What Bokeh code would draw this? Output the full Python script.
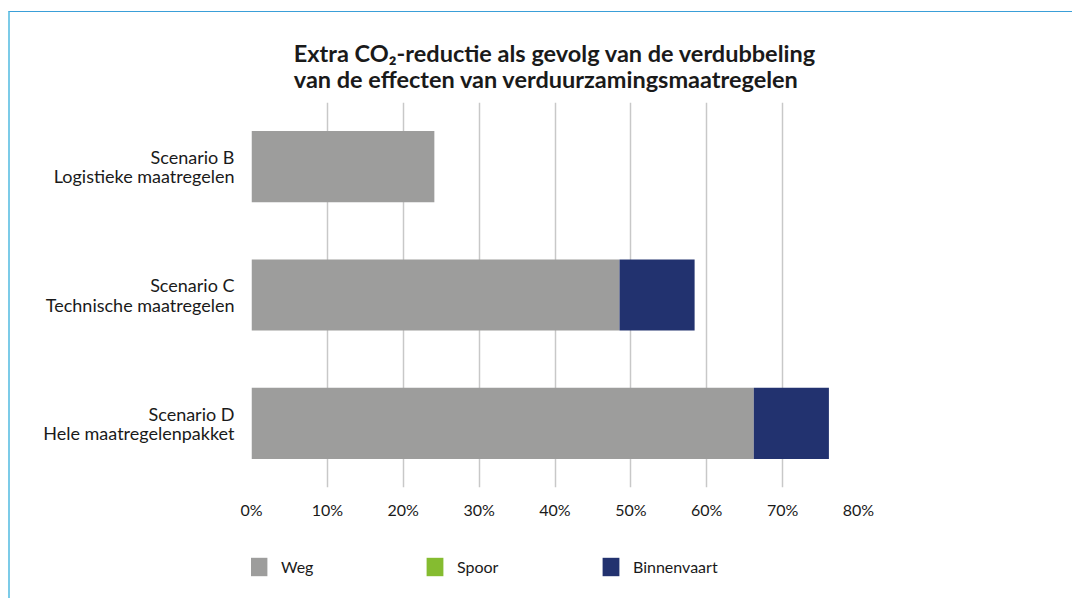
from bokeh.plotting import figure
from bokeh.models import FactorRange, FixedTicker, Legend, LegendItem, ColumnDataSource
from bokeh.layouts import column
from bokeh.embed import file_html
from bokeh.resources import INLINE

# ---- data ----
scenarios = ["Scenario B\nLogistieke maatregelen",
             "Scenario C\nTechnische maatregelen",
             "Scenario D\nHele maatregelenpakket"]
series = ["Weg", "Spoor", "Binnenvaart"]
weg = [24.1, 48.5, 66.2]
spoor = [0.0, 0.0, 0.0]
binnenvaart = [0.0, 9.9, 9.9]
x_ticks = [0, 10, 20, 30, 40, 50, 60, 70, 80]
x_tick_labels = ["0%", "10%", "20%", "30%", "40%", "50%", "60%", "70%", "80%"]
title_lines = ["Extra CO\u2082-reductie als gevolg van de verdubbeling",
               "van de effecten van verduurzamingsmaatregelen"]
colors = ["#9d9d9c", "#85bc30", "#22326f"]

FONT = "Lato"
TXT = "#1a1a1a"

source = ColumnDataSource(dict(scenario=scenarios, Weg=weg, Spoor=spoor, Binnenvaart=binnenvaart))

p = figure(width=1062, height=530, output_backend="svg", toolbar_location=None,
           y_range=FactorRange(*list(reversed(scenarios)), range_padding=0),
           x_range=(0, 80), tools="")

p.min_border_left = 241
p.min_border_right = 214
p.min_border_top = 90
p.min_border_bottom = 55

renderers = p.hbar_stack(series, y="scenario", height=0.555, color=colors,
                         line_color=None, source=source)

p.title.text = "\n".join(title_lines)
p.title.align = "center"
p.title.text_font = FONT
p.title.text_font_size = "23.5px"
p.title.text_font_style = "bold"
p.title.text_color = TXT
p.title.text_line_height = 0.95
p.title.standoff = 18

p.outline_line_color = None
p.ygrid.grid_line_color = None
p.xgrid.grid_line_color = "#c8c8c8"
p.xgrid.grid_line_width = 1.5

p.xaxis.ticker = FixedTicker(ticks=x_ticks)
p.xaxis.major_label_overrides = {t: l for t, l in zip(x_ticks, x_tick_labels)}
p.xaxis.axis_line_color = None
p.xaxis.major_tick_line_color = None
p.xaxis.minor_tick_line_color = None
p.xaxis.major_label_standoff = 6
p.xaxis.major_label_text_font = FONT
p.xaxis.major_label_text_font_size = "16px"
p.xaxis.major_label_text_color = TXT

p.yaxis.axis_line_color = None
p.yaxis.major_tick_line_color = None
p.yaxis.minor_tick_line_color = None
p.yaxis.major_label_standoff = 11
p.yaxis.major_label_text_font = FONT
p.yaxis.major_label_text_font_size = "18px"
p.yaxis.major_label_text_color = TXT
p.yaxis.major_label_text_line_height = 0.87

# ---- legend strip (separate figure; swatch renderers are hidden copies of the series) ----
lg = figure(width=1062, height=56, output_backend="svg", toolbar_location=None, tools="",
            x_range=(0, 80), y_range=FactorRange(*scenarios))
lg.axis.visible = False
lg.grid.visible = False
lg.outline_line_color = None
lg.min_border_left = 241
lg.min_border_right = 214
lg.min_border_top = 0
lg.min_border_bottom = 0
swatches = lg.hbar_stack(series, y="scenario", height=0.5, color=colors,
                         line_color=None, source=source)
for r in swatches:
    r.visible = False

legend = Legend(items=[LegendItem(label=s, renderers=[r]) for s, r in zip(series, swatches)],
                orientation="horizontal", location=(-3, 20),
                glyph_width=21, glyph_height=23, label_standoff=12, label_width=140,
                spacing=3, padding=0, margin=0, border_line_color=None,
                background_fill_alpha=0, label_text_font=FONT, label_text_font_size="16px",
                label_text_color=TXT)
lg.add_layout(legend)

layout = column(p, lg, spacing=0)
layout.styles = {"border-top": "1px solid #3a9fd8", "border-left": "2px solid #7ccbe8",
                 "margin-top": "11px", "margin-left": "8px"}

open("out.html", "w").write(file_html(layout, INLINE))
